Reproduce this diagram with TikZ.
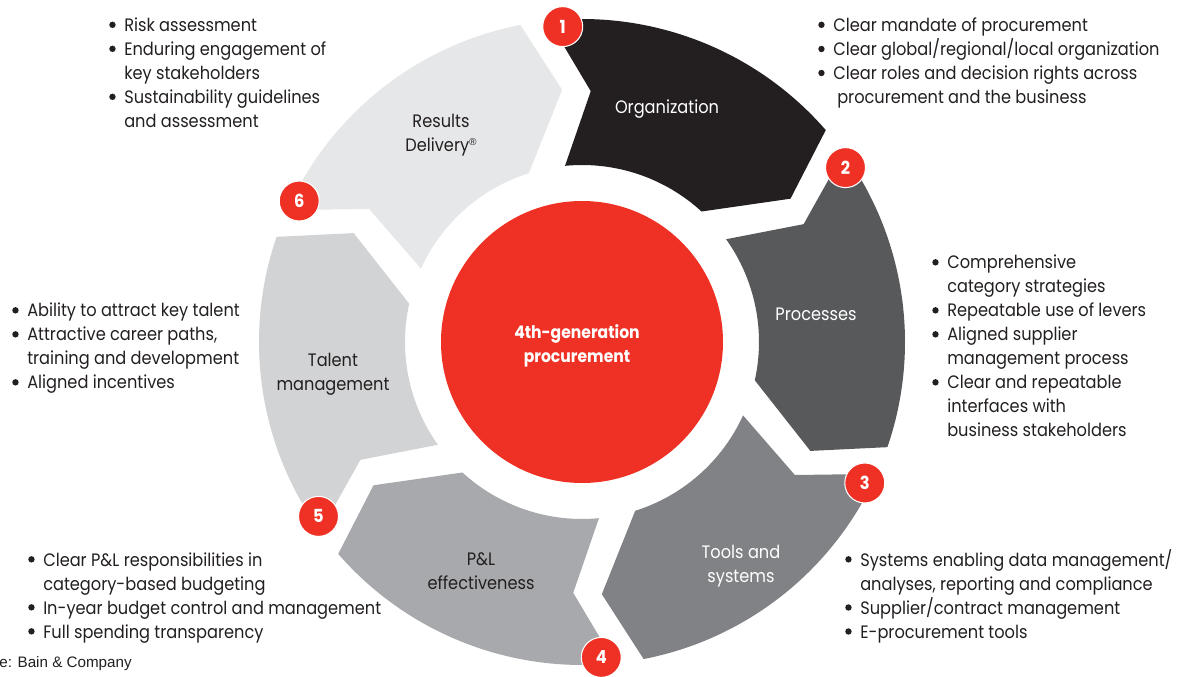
\documentclass[tikz,border=0pt]{standalone}
\usepackage{fontspec}
\setmainfont{Poppins}[FakeStretch=0.9]
\newfontfamily\notefont{Liberation Sans}

\definecolor{ink}{HTML}{231F20}
\definecolor{bainred}{HTML}{EE3124}
\definecolor{segone}{HTML}{231F20}
\definecolor{segtwo}{HTML}{58595B}
\definecolor{segthree}{HTML}{808285}
\definecolor{segfour}{HTML}{A7A9AC}
\definecolor{segfive}{HTML}{D1D3D4}
\definecolor{segsix}{HTML}{E6E7E8}

% round bullet in a cell of fixed width, so all item texts line up
\newcommand\bl{\makebox[11.25pt][l]{\raisebox{2.6pt}{\tikz\fill[ink] (0,0) circle[radius=2.4pt];}}}
\newenvironment{blist}{\begin{tabular}[t]{@{}l@{}l@{}}}{\end{tabular}}
\newcommand\regmark{\raisebox{4.2pt}{\notefont\fontsize{7.5}{7.5}\selectfont\textregistered}}

\begin{document}
\begin{tikzpicture}[x=0.75pt,y=0.75pt,
  body/.style={font=\fontsize{13.5}{18}\selectfont, text=ink, inner sep=0pt, anchor=base west},
  seglabel/.style={font=\fontsize{13.5}{18}\selectfont, align=center, inner sep=0pt},
  badge/.style={circle, fill=bainred, draw=white, line width=0.8pt, minimum size=30pt,
    inner sep=0pt, text=white, font=\fontsize{13.5}{13.5}\selectfont\bfseries},
]
\useasboundingbox (-582,-335) rectangle (595,342);

% six arrow-shaped ring segments, running clockwise
\foreach \k/\c in {1/segone,2/segtwo,3/segthree,4/segfour,5/segfive,6/segsix}{
  \pgfmathsetmacro\s{93.5-60*(\k-1)}
  \fill[\c] ({\s+2.4}:323) arc[start angle={\s+2.4}, end angle={\s-52.5}, radius=323]
     -- ({\s-59}:253) -- ({\s-46}:177)
     arc[start angle={\s-46}, end angle={\s+2}, radius=177]
     -- ({\s-5.5}:251) -- cycle;
}

% hub
\node[circle, fill=bainred, minimum size=211.5pt, inner sep=0pt] (hub) at (0,0) {};
\node[font=\fontsize{13}{18}\selectfont\bfseries, text=white, align=center, inner sep=0pt]
  (hubtext) at (-5,-4) {4th-generation\\procurement};

% numbered badges at the start of each segment
\foreach \k in {1,...,6}
  \node[badge] (b\k) at ({93.5-60*(\k-1)}:316) {\k};

% segment titles
\node[seglabel, text=white] (t1) at (85,233) {Organization};
\node[seglabel, text=white] (t2) at (234,28) {Processes};
\node[seglabel, text=white] (t3) at (159,-224) {Tools and\\systems};
\node[seglabel, text=ink] (t4) at (-101,-229) {P\&L\\effectiveness};
\node[seglabel, text=ink] (t5) at (-249,-32) {Talent\\management};
\node[seglabel, text=ink] (t6) at (-141,207) {Results\\Delivery\regmark};

% bullet lists
\node[body] (l6) at (-473,310.5) {\begin{blist}
\bl & Risk assessment\\
\bl & Enduring engagement of\\
    & key stakeholders\\
\bl & Sustainability guidelines\\
    & and assessment
\end{blist}};

\node[body] (l1) at (236,310.5) {\begin{blist}
\bl & Clear mandate of procurement\\
\bl & Clear global/regional/local organization\\
\bl & Clear roles and decision rights across\\
    & \hspace{3pt}procurement and the business
\end{blist}};

\node[body] (l2) at (350,73) {\begin{blist}
\bl & Comprehensive\\
    & category strategies\\
\bl & Repeatable use of levers\\
\bl & Aligned supplier\\
    & management process\\
\bl & Clear and repeatable\\
    & interfaces with\\
    & business stakeholders
\end{blist}};

\node[body] (l3) at (263,-224) {\begin{blist}
\bl & Systems enabling data management/\\
    & analyses, reporting and compliance\\
\bl & Supplier/contract management\\
\bl & E-procurement tools
\end{blist}};

\node[body] (l4) at (-554,-224) {\begin{blist}
\bl & Clear P\&L responsibilities in\\
    & category-based budgeting\\
\bl & In-year budget control and management\\
\bl & Full spending transparency
\end{blist}};

\node[body] (l5) at (-570,25) {\begin{blist}
\bl & Ability to attract key talent\\
\bl & Attractive career paths,\\
    & training and development\\
\bl & Aligned incentives
\end{blist}};

% source line
\node[font=\notefont\fontsize{11.4}{14}\selectfont, text=ink, inner sep=0pt, anchor=base east]
  (src) at (-450,-325) {Source: Bain \& Company};
\end{tikzpicture}
\end{document}
